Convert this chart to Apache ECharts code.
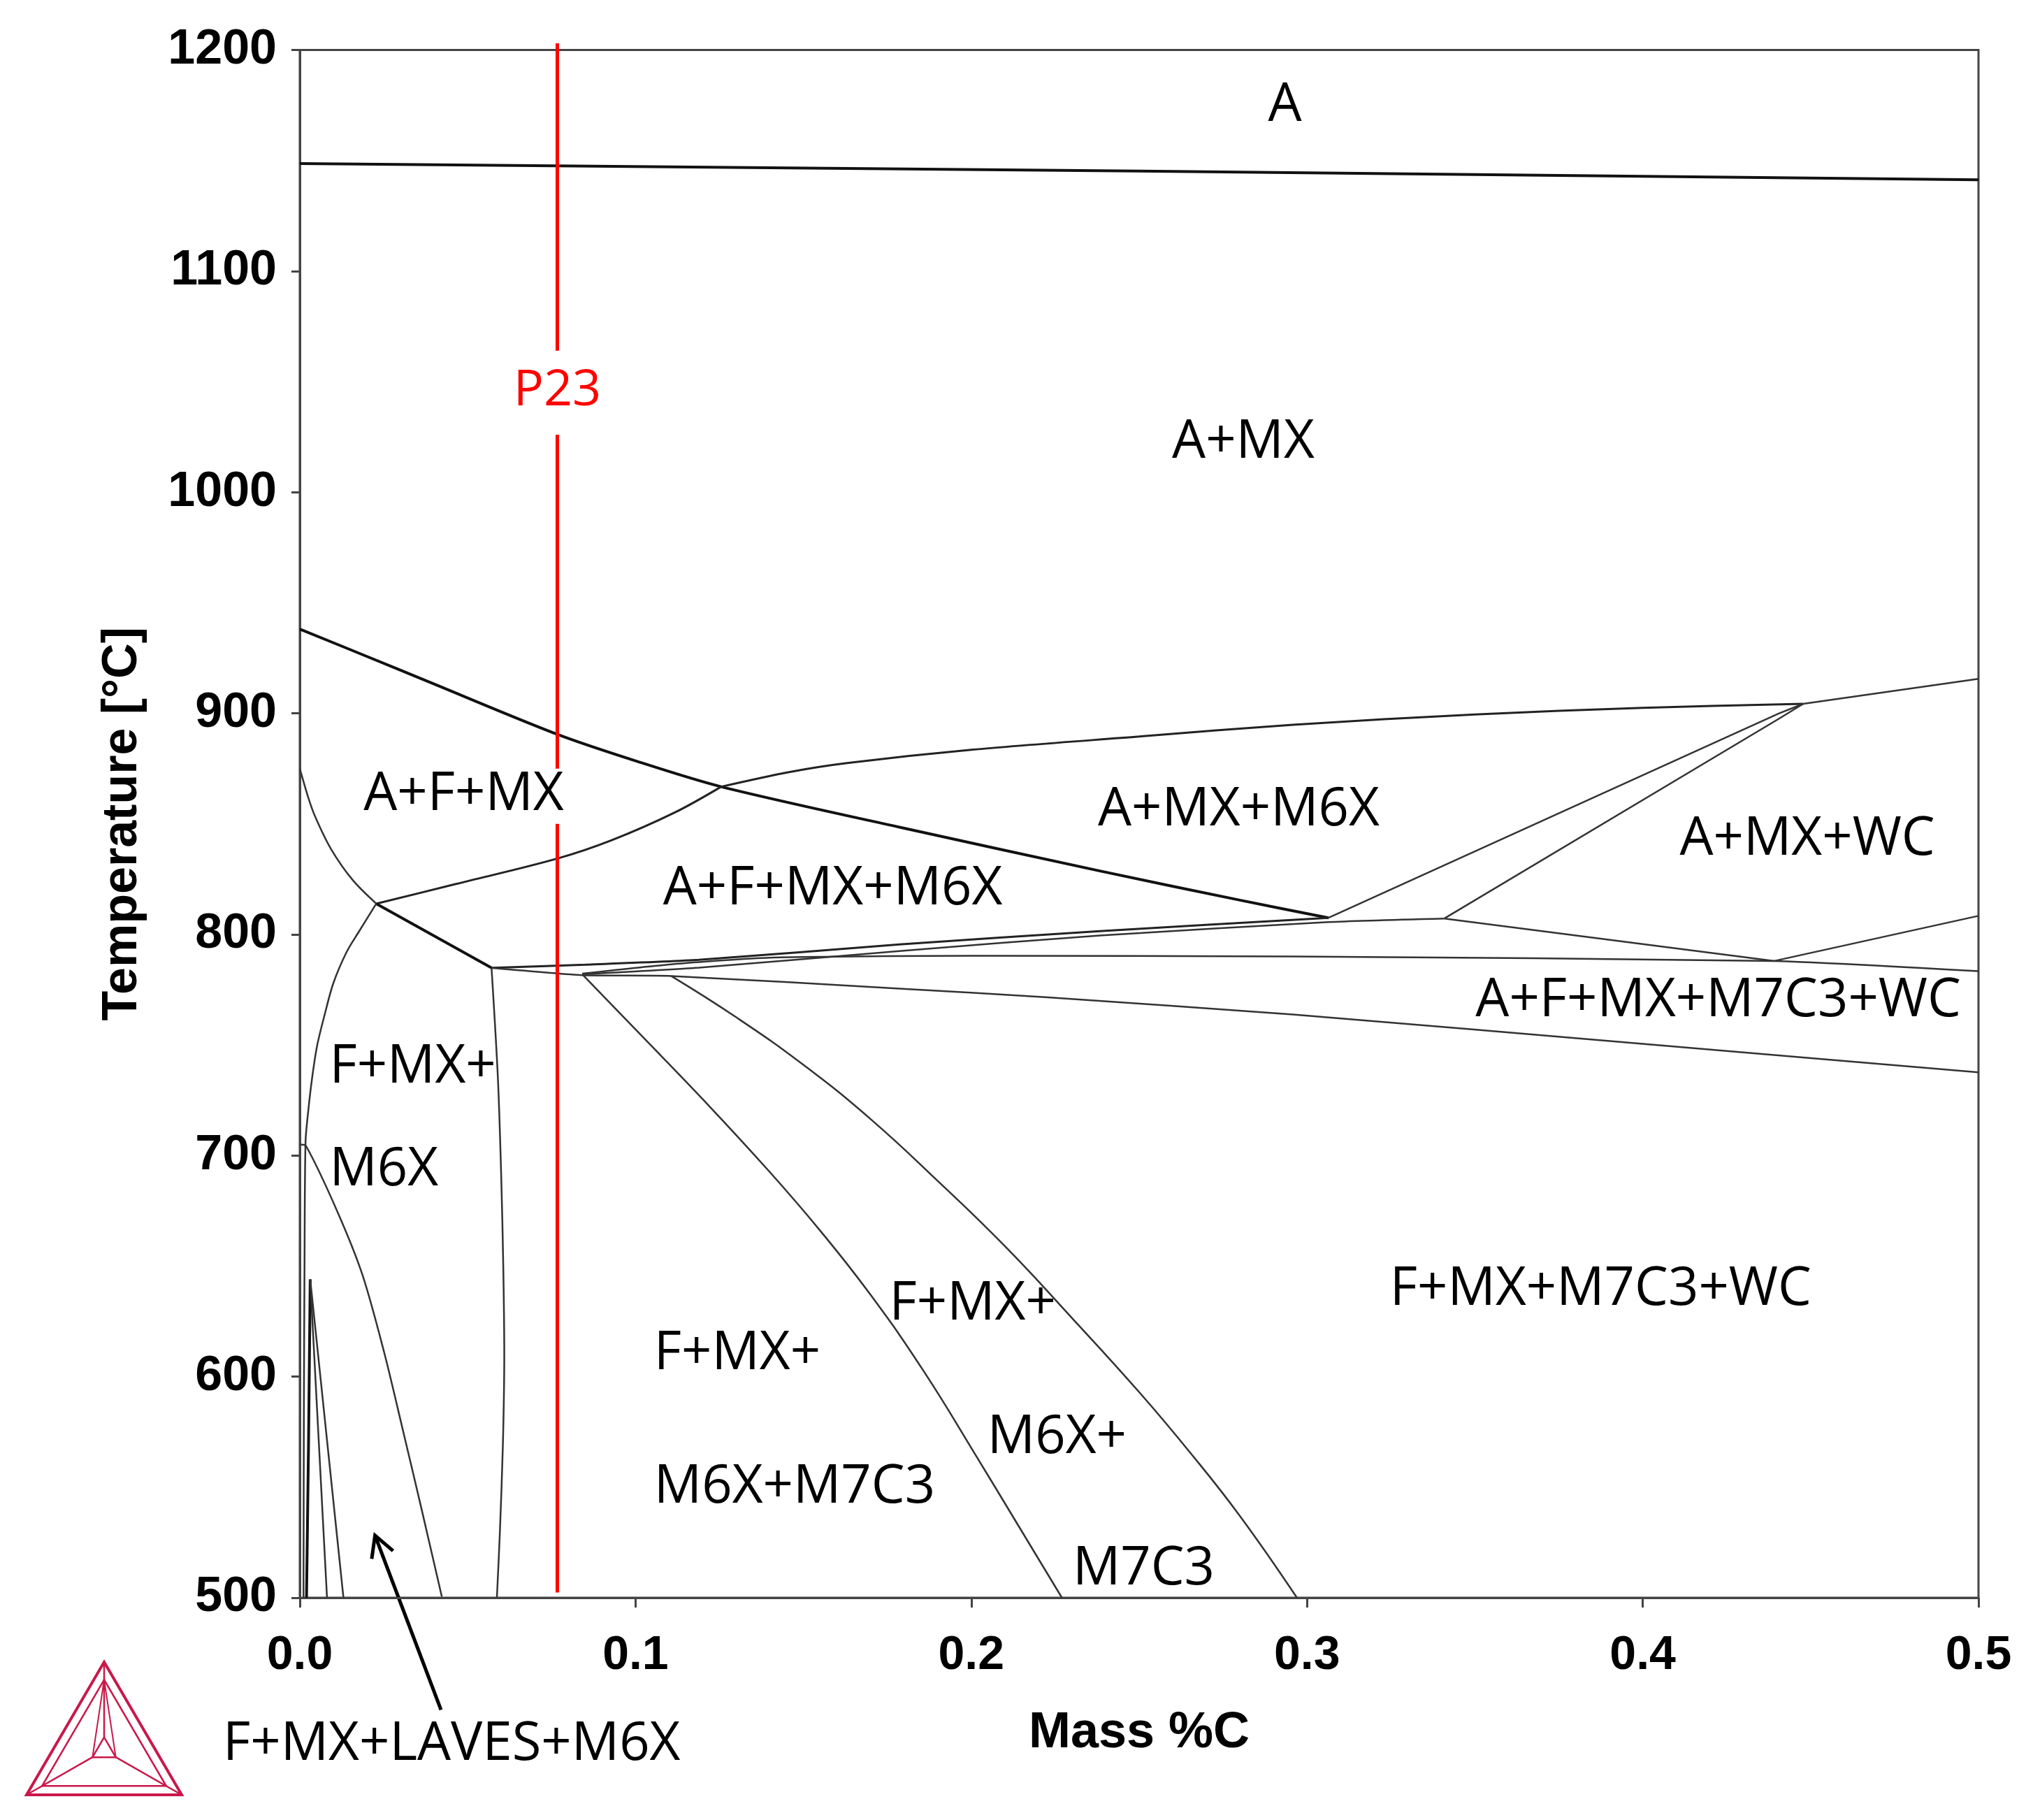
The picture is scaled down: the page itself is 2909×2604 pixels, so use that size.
<!DOCTYPE html>
<html><head><meta charset="utf-8">
<script src="https://cdn.jsdelivr.net/npm/echarts@6/dist/echarts.min.js"></script>
<style>html,body{margin:0;padding:0;background:#fff}#c{width:2909px;height:2604px}</style>
</head><body><div id="c"></div>
<script>
// ---- axes ----
const xMin = 0, xMax = 0.5, xStep = 0.1;
const yMin = 500, yMax = 1200, yStep = 100;

// ---- phase boundaries [mass %C, temperature °C] ----
const curveA   = [[0,1148.6],[0.25,1145.2],[0.5,1141.3]];
const curveB   = [[0,938.1],[0.02,925.7],[0.0372,915],[0.0767,890.5],[0.1,878.5],[0.1255,866.8],[0.1786,848.5],[0.2383,828.7],[0.28,815.5],[0.3064,807.5]];
const curveClo = [[0.02277,813.9],[0.0465,822.8],[0.0767,834.3],[0.0929,842.6],[0.1115,855.0],[0.1255,866.8]];
const curveCup = [[0.1255,866.8],[0.1457,873.4],[0.163,877.5],[0.2,883.5],[0.25,889.5],[0.2958,894.8],[0.35,899.5],[0.4,902.5],[0.4478,904.3]];
const curveC2  = [[0.4478,904.3],[0.5,915.6]];
const curveD   = [[0,875],[0.0025,862],[0.00465,853],[0.0093,838.6],[0.0158,824.5],[0.02277,813.9]];
const curveD2  = [[0.02277,813.9],[0.0571,784.9]];
const curveE   = [[0.02277,813.9],[0.0175,801],[0.0139,791.9],[0.0100,778],[0.0074,763.7],[0.0052,750],[0.0037,735.5],[0.0025,720],[0.0017,706],[0.0014,650],[0.0012,580],[0.0011,500]];
const curveF   = [[0.0571,784.9],[0.0590,735],[0.0600,690],[0.0606,650],[0.0609,610],[0.0605,570],[0.0596,530],[0.0587,500]];
const curveG   = [[0,705],[0.0019,704.2],[0.0112,674.6],[0.0186,646.3],[0.0251,611.1],[0.0307,575.8],[0.0362,540.5],[0.0423,500.5]];
const spikeThick = [[0.0031,644],[0.0026,570],[0.0020,500]];
const spikeA   = [[0.0031,644],[0.0081,500]];
const spikeB   = [[0.0031,644],[0.0130,500]];
const curveH   = [[0.0841,782],[0.10,757],[0.12,725.5],[0.14,692.5],[0.155,666],[0.17,637],[0.1856,603],[0.2011,565],[0.227,500]];
const curveI   = [[0.1106,781.2],[0.13,762.5],[0.15,741],[0.17,716.5],[0.19,688.5],[0.21,659],[0.23,626.5],[0.25,593],[0.265,566],[0.28,537],[0.297,500]];
const curveR1  = [[0.0571,784.9],[0.085,786.3],[0.1189,788.5],[0.1786,795.5],[0.2383,801.5],[0.3064,807.5]];
const curveR2  = [[0.0841,782.0],[0.1189,785],[0.1786,792.5],[0.2383,799.5],[0.3064,805.6],[0.3409,807.2]];
const curveM   = [[0.0841,782.3],[0.1106,786.5],[0.14,789.5],[0.2,790.3],[0.2958,790.0],[0.4392,788.0],[0.5,783.4]];
const curveL   = [[0.0571,784.9],[0.0841,781.6],[0.1106,781.2],[0.1786,775.5],[0.2229,771.5],[0.2958,763.8],[0.4,750.5],[0.5,737.6]];
const riseJ4J3 = [[0.3064,807.5],[0.4405,899.9],[0.4478,904.3]];
const riseJ5J3 = [[0.3409,807.2],[0.4405,897.5],[0.4478,904.3]];
const lineJ5J6 = [[0.3409,807.2],[0.4392,788.0]];
const lineJ6R  = [[0.4392,788.0],[0.5,808.4]];

// ---- P23 composition line (red) ----
const p23X = 0.0767;
const p23Segments = [[1203,1064],[1026,875],[850,502.4]];

// ---- region labels ----
const regionText  = ['A','A+MX','A+F+MX','A+MX+M6X','A+MX+WC','A+F+MX+M6X','A+F+MX+M7C3+WC','F+MX+','M6X','F+MX+M7C3+WC','F+MX+','F+MX+','M6X+','M6X+M7C3','M7C3'];
const regionX     = [0.2884,0.2598,0.0190,0.2377,0.4110,0.1082,0.3502,0.00883,0.00883,0.3247,0.1756,0.1055,0.2048,0.1055,0.2302];
const regionT     = [1174.8,1022.4,863.2,856.0,843.0,820.3,769.8,739.8,693.2,639.4,632.5,610.1,572.3,549.7,512.7];
const p23Label    = {text:'P23', x:0.0767, t:1045.7};

// ---- annotation outside plot ----
const arrowTail = [0.04205,449.3];
const arrowTip  = [0.0224,528.2];
const lavesText = 'F+MX+LAVES+M6X';
const lavesPos  = [-0.0229,433.4];

const THIN = '#333', THICK = '#111';
function ls(data, width, color, smooth){
  return {type:'line', data:data, symbol:'none', showSymbol:false, smooth:smooth||false,
    lineStyle:{width:width, color:color}, silent:true, animation:false, z:2, clip:false};
}
const series = [
  ls(curveA,4,THICK,false),
  ls(curveB,4,THICK,0.3),
  ls(curveClo,3,'#222',0.35), ls(curveCup,3,'#222',0.3), ls(curveC2,2.5,THIN,false),
  ls(curveD,2.5,THIN,0.3), ls(curveD2,4,THICK,false),
  ls(curveE,2.5,THIN,0.3), ls(curveF,2.5,THIN,0.3), ls(curveG,2.5,THIN,0.3),
  ls(spikeThick,4,THICK,false), ls(spikeA,2.5,THIN,false), ls(spikeB,2.5,THIN,false),
  ls(curveH,2.5,THIN,0.45), ls(curveI,2.5,THIN,0.45),
  ls(curveR1,3,'#222',0.2), ls(curveR2,2.5,THIN,0.2), ls(curveM,2.5,THIN,0.2), ls(curveL,2.5,THIN,0.2),
  ls(riseJ4J3,2.5,THIN,false), ls(riseJ5J3,2.5,THIN,false), ls(lineJ5J6,2.5,THIN,false), ls(lineJ6R,2.5,THIN,false)
];
p23Segments.forEach(function(s){
  series.push({type:'line', data:[[p23X,s[0]],[p23X,s[1]]], symbol:'none', showSymbol:false,
    lineStyle:{width:5,color:'#ff0000'}, silent:true, animation:false, z:3, clip:false});
});
const labelFont = '"Open Sans", "Noto Sans", sans-serif';
series.push({type:'scatter', symbolSize:0, silent:true, animation:false, z:5, itemStyle:{opacity:1},
  data: regionText.map(function(t,i){ return {value:[regionX[i],regionT[i]], label:{formatter:t}}; }),
  label:{show:true, position:[0,0], align:'left', verticalAlign:'middle', color:'#000', opacity:1, fontSize:76, fontFamily:labelFont}
});
series.push({type:'scatter', symbolSize:0, silent:true, animation:false, z:5, itemStyle:{opacity:1},
  data:[{value:[p23Label.x,p23Label.t], label:{formatter:p23Label.text}}],
  label:{show:true, position:[0,0], align:'center', verticalAlign:'middle', color:'#ff0000', opacity:1, fontSize:72, fontFamily:labelFont}
});

const boldFont = '"Liberation Sans", Arial, sans-serif';
const chart = echarts.init(document.getElementById('c'), null, {renderer:'canvas'});
chart.setOption({
  backgroundColor:'#fff',
  animation:false,
  grid:{left:429, right:78, top:71.5, bottom:318, show:true, borderColor:'#444', borderWidth:3, containLabel:false, outerBoundsMode:'none'},
  xAxis:{type:'value', min:xMin, max:xMax, interval:xStep,
    axisLine:{show:true, onZero:false, lineStyle:{color:'#444', width:3}},
    axisTick:{show:true, length:14, lineStyle:{color:'#444', width:3}},
    splitLine:{show:false},
    axisLabel:{margin:49, fontSize:68, fontWeight:'bold', color:'#000', fontFamily:boldFont, showMinLabel:true, showMaxLabel:true,
      formatter:function(v){return v.toFixed(1);}},
    name:'Mass %C', nameLocation:'middle', nameGap:158,
    nameTextStyle:{fontSize:72, fontWeight:'bold', color:'#000', fontFamily:boldFont}
  },
  yAxis:{type:'value', min:yMin, max:yMax, interval:yStep,
    axisLine:{show:true, onZero:false, lineStyle:{color:'#444', width:3}},
    axisTick:{show:true, length:12, lineStyle:{color:'#444', width:3}},
    splitLine:{show:false},
    axisLabel:{margin:33, fontSize:70, fontWeight:'bold', color:'#000', fontFamily:boldFont, showMinLabel:true, showMaxLabel:true,
      formatter:function(v){return String(Math.round(v));}},
    name:'Temperature [°C]', nameLocation:'middle', nameGap:218,
    nameTextStyle:{fontSize:70, fontWeight:'bold', color:'#000', fontFamily:boldFont}
  },
  series:series
});

// annotation + logo
const tip = chart.convertToPixel({gridIndex:0}, arrowTip);
const tail = chart.convertToPixel({gridIndex:0}, arrowTail);
const lp = chart.convertToPixel({gridIndex:0}, lavesPos);
const ang = Math.atan2(tip[1]-tail[1], tip[0]-tail[0]);
const hl = 34, ha = 0.5;
const w1 = [tip[0]-hl*Math.cos(ang-ha), tip[1]-hl*Math.sin(ang-ha)];
const w2 = [tip[0]-hl*Math.cos(ang+ha), tip[1]-hl*Math.sin(ang+ha)];

// logo geometry (pixels, decorative)
const lc = '#c9184a';
const T0=[149,2378], B0=[38,2568], C0=[260,2568];
const cen=[(T0[0]+B0[0]+C0[0])/3,(T0[1]+B0[1]+C0[1])/3];
function sc(p,s){return [cen[0]+(p[0]-cen[0])*s, cen[1]+(p[1]-cen[1])*s];}
const Ti=sc(T0,0.8), Bi=sc(B0,0.8), Ci=sc(C0,0.8);
const Ts=sc(T0,0.15), Bs=sc(B0,0.15), Cs=sc(C0,0.15);
function poly(pts,w,closed){return {type:closed?'polygon':'polyline', shape:{points:pts}, style:{stroke:lc, fill:null, lineWidth:w}, silent:true};}

chart.setOption({graphic:[
  {type:'line', shape:{x1:tail[0], y1:tail[1], x2:tip[0], y2:tip[1]}, style:{stroke:'#000', lineWidth:5}, silent:true},
  {type:'polyline', shape:{points:[w1,tip,w2]}, style:{stroke:'#000', lineWidth:5, fill:null}, silent:true},
  {type:'text', x:lp[0], y:lp[1], style:{text:lavesText, font:'76px '+labelFont, fill:'#000', align:'left', verticalAlign:'middle'}, silent:true},
  poly([T0,B0,C0],4,true),
  poly([Ti,Bi,Ci],2.5,true),
  poly([Ts,Bs,Cs],2.5,true),
  poly([T0,Ts],2.5,false), poly([B0,Bs],2.5,false), poly([C0,Cs],2.5,false),
  poly([Ti,Bs],2,false), poly([Ti,Cs],2,false)
]});
</script></body></html>
